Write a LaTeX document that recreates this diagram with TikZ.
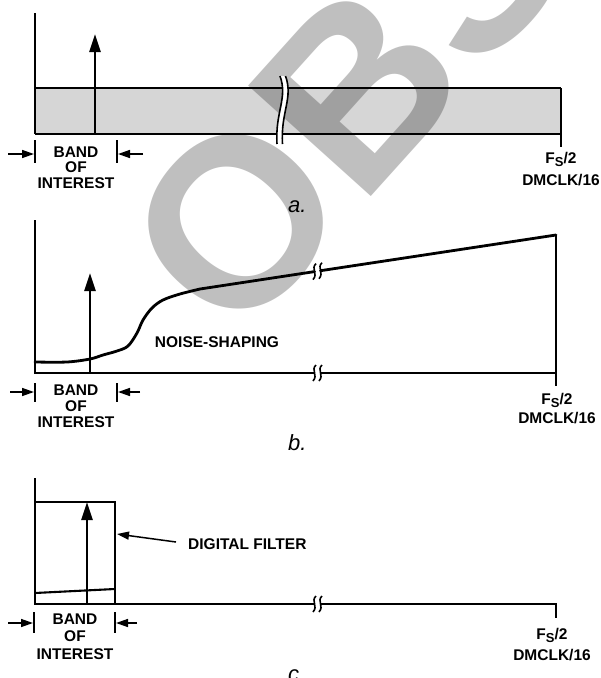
\documentclass[tikz,border=0pt]{standalone}
\usepackage{fontspec}
\setmainfont{Liberation Sans}
\usetikzlibrary{arrows.meta}
\tikzset{
  axis/.style={line width=1.6pt},
  bandline/.style={line width=2.1pt},
  curve/.style={line width=2.8pt, line join=round, line cap=round},
  bigarrow/.style={line width=2.6pt, -{Triangle[length=18pt,width=11pt]}},
  smallarrow/.style={line width=1.5pt, -{Triangle[length=12pt,width=8pt]}},
  tickline/.style={line width=1.4pt},
  lbl/.style={font=\fontsize{15.5}{15.5}\selectfont\bfseries, inner sep=0pt, anchor=base},
  plabel/.style={font=\fontsize{22}{22}\selectfont\itshape, inner sep=0pt, anchor=base west},
  squig/.style={line width=1.6pt},
  wmark/.style={font=\fontsize{240}{240}\selectfont\bfseries, inner sep=0pt, anchor=base west,
    rotate=48, text=black, text opacity=0.25},
}
\newcommand\brkmark[2]{%
  \draw[squig] ({#1+1.5},{#2-8}) .. controls ({#1-4},{#2-3}) and ({#1+4},{#2+2}) .. ({#1-1.5},{#2+8});}
\newcommand\fsnode[4]{%
  \node[lbl] (#1) at (#2,#3) {F\raisebox{-3.5pt}{\fontsize{13}{13}\selectfont S}/2};
  \node[lbl] (#1d) at (#2,#4) {DMCLK/16};}
\newcommand\bandtext[5]{%
  \node[lbl] (#1b) at (#2,#3) {BAND};
  \node[lbl] (#1o) at (#2,#4) {OF};
  \node[lbl] (#1i) at (#2,#5) {INTEREST};}
\begin{document}
\begin{tikzpicture}[x=1pt,y=-1pt]
\useasboundingbox (0,0) rectangle (601,678);
% ---------- panel a ----------
\fill[black!16] (35,88) rectangle (560.7,134);
\draw[bandline] (35,88) -- (560.7,88);
\draw[bandline] (35,134) -- (560.7,134);
% watermark
\begin{scope}
  \clip (0,0) rectangle (601,678);
  \node[wmark] (wm) at (235,347) {OBSOLETE};
\end{scope}
\draw[axis] (35,13) -- (35,134);
\draw[axis] (560.7,88) -- (560.7,147);
\coordinate (aA0) at (95,134);
\coordinate (aA1) at (95,34);
\draw[bigarrow] (aA0) -- (aA1);
% break in band
\fill[white] (280,76) .. controls (288,98) and (275,112) .. (277,144) -- (282.5,144)
  .. controls (280.5,112) and (293.5,98) .. (285.5,76) -- cycle;
\draw[squig] (280,76) .. controls (288,98) and (275,112) .. (277,144);
\draw[squig] (285.5,76) .. controls (293.5,98) and (280.5,112) .. (282.5,144);
% band of interest a
\draw[tickline] (35,140) -- (35,163);
\draw[tickline] (117,140) -- (117,163);
\coordinate (aL0) at (8,154); \coordinate (aL1) at (34,154);
\coordinate (aR0) at (143,154); \coordinate (aR1) at (118,154);
\draw[smallarrow] (aL0) -- (aL1);
\draw[smallarrow] (aR0) -- (aR1);
\bandtext{a}{76}{157}{172}{188}
\fsnode{afs}{561}{163}{185}
\node[plabel] (alab) at (288,212) {a.};
% ---------- panel b ----------
\draw[axis] (35,220) -- (35,373) -- (314.5,373);
\draw[axis] (320.5,373) -- (556,373);
\draw[axis] (556,235) -- (556,386);
\brkmark{314.5}{373}
\brkmark{320.5}{373}
\draw[curve] plot[smooth, tension=0.55] coordinates {(35,362) (67,362) (90,359) (103,355) (117,351) (128,346) (137,333) (143,320) (152,308) (163,300) (180,294) (200,289)} -- (314.5,271.6);
\draw[curve] (320.5,270.7) -- (556,235);
\brkmark{314.5}{271.6}
\brkmark{320.5}{270.7}
\coordinate (bA0) at (90,373);
\coordinate (bA1) at (90,273);
\draw[bigarrow] (bA0) -- (bA1);
\node[lbl] (ns) at (217,347) {NOISE-SHAPING};
\draw[tickline] (35,383) -- (35,402);
\draw[tickline] (117,383) -- (117,402);
\coordinate (bL0) at (10,392); \coordinate (bL1) at (34,392);
\coordinate (bR0) at (140,392); \coordinate (bR1) at (118,392);
\draw[smallarrow] (bL0) -- (bL1);
\draw[smallarrow] (bR0) -- (bR1);
\bandtext{b}{76}{395}{411}{427}
\fsnode{bfs}{557}{404}{423}
\node[plabel] (blab) at (288,450) {b.};
% ---------- panel c ----------
\draw[axis] (35,478) -- (35,604) -- (314.5,604);
\draw[axis] (320.5,604) -- (556,604) -- (556,618);
\brkmark{314.5}{604}
\brkmark{320.5}{604}
\draw[bandline] (35,502) -- (115,502) -- (115,604);
\draw[bandline] (35,593) -- (115,589);
\coordinate (cA0) at (87,604);
\coordinate (cA1) at (87,502);
\draw[bigarrow] (cA0) -- (cA1);
\node[lbl, anchor=base west] (df) at (188,549) {DIGITAL FILTER};
\coordinate (dfA) at (176,542);
\coordinate (dfB) at (117,534);
\draw[smallarrow] (dfA) -- (dfB);
\draw[tickline] (34,612) -- (34,633);
\draw[tickline] (115,612) -- (115,633);
\coordinate (cL0) at (8,623); \coordinate (cL1) at (33,623);
\coordinate (cR0) at (137,623); \coordinate (cR1) at (116,623);
\draw[smallarrow] (cL0) -- (cL1);
\draw[smallarrow] (cR0) -- (cR1);
\bandtext{c}{75}{624}{641.5}{659}
\fsnode{cfs}{552}{639}{660}
\node[plabel] (clab) at (288,681) {c.};
\end{tikzpicture}
\end{document}
